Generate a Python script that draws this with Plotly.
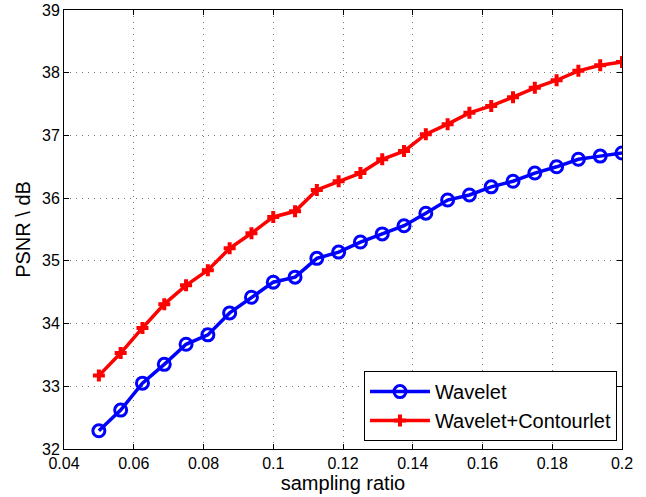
import plotly.graph_objects as go

sampling_ratio = [0.05, 0.05625, 0.0625, 0.06875, 0.075, 0.08125, 0.0875, 0.09375, 0.1,
                  0.10625, 0.1125, 0.11875, 0.125, 0.13125, 0.1375, 0.14375, 0.15,
                  0.15625, 0.1625, 0.16875, 0.175, 0.18125, 0.1875, 0.19375, 0.2]
wavelet = [32.29, 32.62, 33.05, 33.35, 33.67, 33.82, 34.17, 34.42, 34.66, 34.74,
           35.04, 35.14, 35.30, 35.43, 35.56, 35.76, 35.97, 36.05, 36.18, 36.27,
           36.40, 36.50, 36.62, 36.67, 36.72]
wavelet_contourlet = [33.17, 33.53, 33.93, 34.31, 34.61, 34.85, 35.20, 35.44, 35.70, 35.79,
                      36.13, 36.27, 36.40, 36.62, 36.75, 37.02, 37.18, 37.36, 37.47, 37.61,
                      37.76, 37.88, 38.03, 38.12, 38.17]

x_ticks = [0.04, 0.06, 0.08, 0.1, 0.12, 0.14, 0.16, 0.18, 0.2]
x_ticklabels = ["0.04", "0.06", "0.08", "0.1", "0.12", "0.14", "0.16", "0.18", "0.2"]
y_ticks = [32, 33, 34, 35, 36, 37, 38, 39]

font = "Liberation Sans, Arial, Helvetica, sans-serif"

fig = go.Figure()
fig.add_trace(go.Scatter(
    x=sampling_ratio, y=wavelet, name="Wavelet", mode="lines+markers",
    line=dict(color="#0000ff", width=3.5),
    marker=dict(symbol="circle-open", size=12, color="#0000ff", line=dict(width=3)),
))
fig.add_trace(go.Scatter(
    x=sampling_ratio, y=wavelet_contourlet, name="Wavelet+Contourlet", mode="lines+markers",
    line=dict(color="#ff0000", width=3.5),
    marker=dict(symbol="cross", size=10, color="#ff0000"),
))

axis_common = dict(
    showline=True, linecolor="black", linewidth=1, mirror="allticks",
    ticks="inside", ticklen=5, tickcolor="black",
    showgrid=True, gridcolor="#777777", griddash="1px,5px", gridwidth=1,
    zeroline=False, tickfont=dict(family=font, size=16, color="black"),
    automargin=False,
)

fig.update_layout(
    width=646, height=497,
    margin=dict(l=64, r=24, t=10, b=48, autoexpand=False),
    paper_bgcolor="white", plot_bgcolor="white",
    font=dict(family=font, color="black"),
    xaxis=dict(range=[0.04, 0.2], tickvals=x_ticks, ticktext=x_ticklabels,
               title=dict(text="sampling ratio", font=dict(family=font, size=20), standoff=2),
               **axis_common),
    yaxis=dict(range=[32, 39], tickvals=y_ticks,
               title=dict(text="PSNR \\ dB", font=dict(family=font, size=20), standoff=6),
               **axis_common),
    legend=dict(x=0.991, y=0.018, xanchor="right", yanchor="bottom",
                bordercolor="black", borderwidth=1, bgcolor="white",
                font=dict(family=font, size=20, color="black"),
                tracegroupgap=0, itemwidth=60),
    showlegend=True,
)

fig.write_html("out.html", config={"displayModeBar": False},
               post_script="document.body.style.margin='0';")
